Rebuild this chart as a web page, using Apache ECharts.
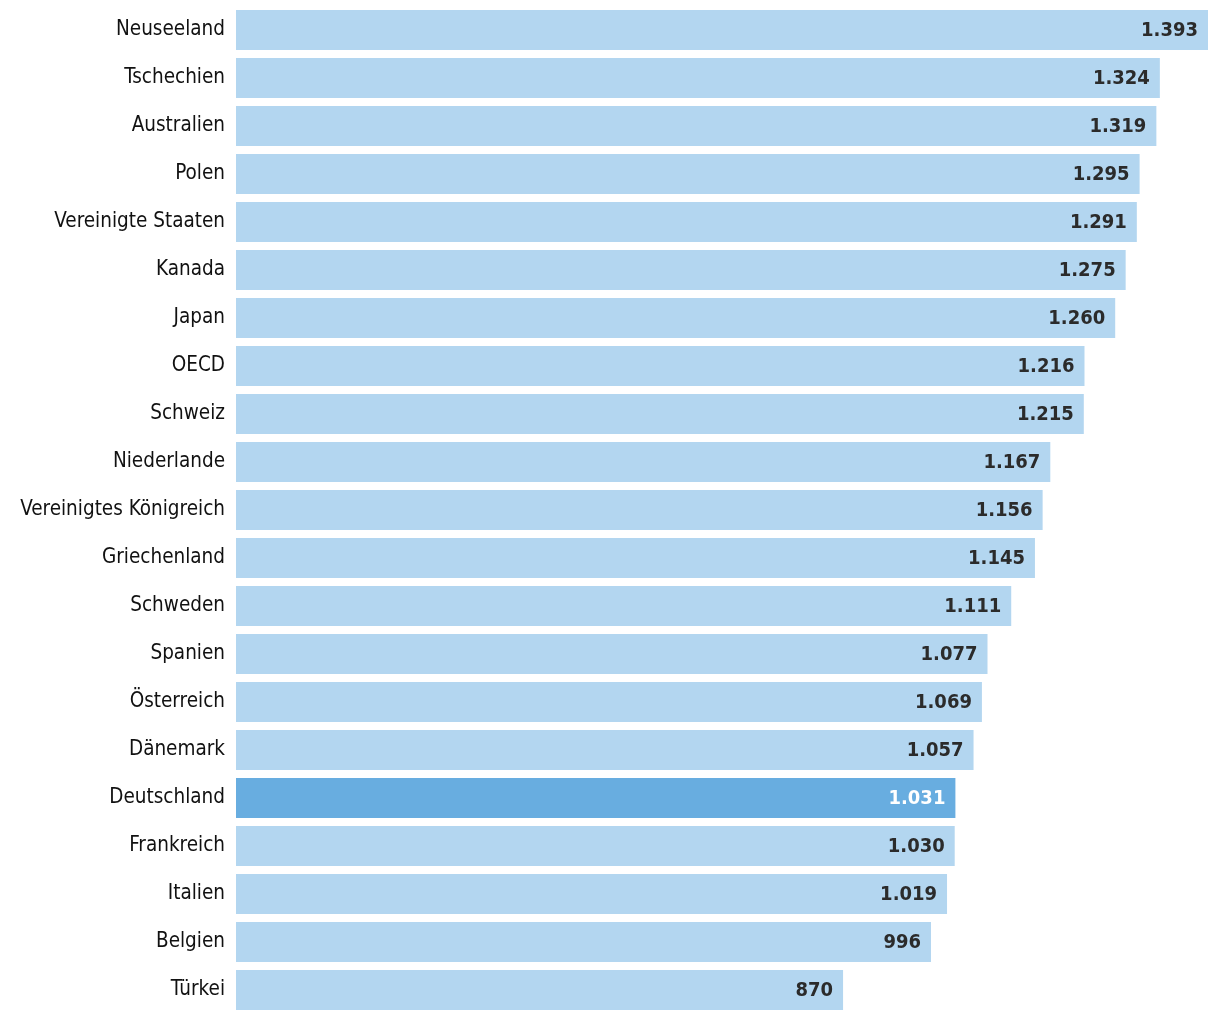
<!DOCTYPE html>
<html><head><meta charset="utf-8">
<script src="https://cdn.jsdelivr.net/npm/echarts@6/dist/echarts.min.js"></script>
<style>html,body{margin:0;padding:0;background:#fff}#c{width:1220px;height:1020px}</style>
</head><body><div id="c"></div>
<script>
const categories = ["Neuseeland","Tschechien","Australien","Polen","Vereinigte Staaten","Kanada","Japan","OECD","Schweiz","Niederlande","Vereinigtes Königreich","Griechenland","Schweden","Spanien","Österreich","Dänemark","Deutschland","Frankreich","Italien","Belgien","Türkei"];
const values = [1393,1324,1319,1295,1291,1275,1260,1216,1215,1167,1156,1145,1111,1077,1069,1057,1031,1030,1019,996,870];
const highlight = "Deutschland";

const FONT = "'Liberation Sans Narrow', 'DejaVu Sans Condensed', sans-serif";
const fmt = v => v >= 1000 ? Math.floor(v/1000) + "." + String(v%1000).padStart(3,"0") : String(v);

const chart = echarts.init(document.getElementById('c'), null, {renderer:'canvas'});
chart.setOption({
  animation:false,
  grid:{left:236,right:12,top:6,bottom:6,containLabel:false},
  xAxis:{type:'value',min:0,max:1393,show:false},
  yAxis:{type:'category',data:categories,inverse:true,
    axisLine:{show:false},axisTick:{show:false},
    axisLabel:{margin:11,fontSize:20.5,color:'#111',fontFamily:FONT,padding:[6,0,0,0]}},
  series:[{type:'bar',barCategoryGap:'16.67%',
    data:values.map((v,i)=>({value:v,itemStyle:{color:categories[i]===highlight?'#68ade0':'#b3d6f0'},
      label:{color:categories[i]===highlight?'#ffffff':'#2b2b2b'}})),
    label:{show:true,position:'insideRight',distance:10,offset:[0,1],fontSize:20,fontWeight:'bold',fontFamily:FONT,
      formatter:p=>fmt(p.value)}
  }]
});
</script></body></html>
